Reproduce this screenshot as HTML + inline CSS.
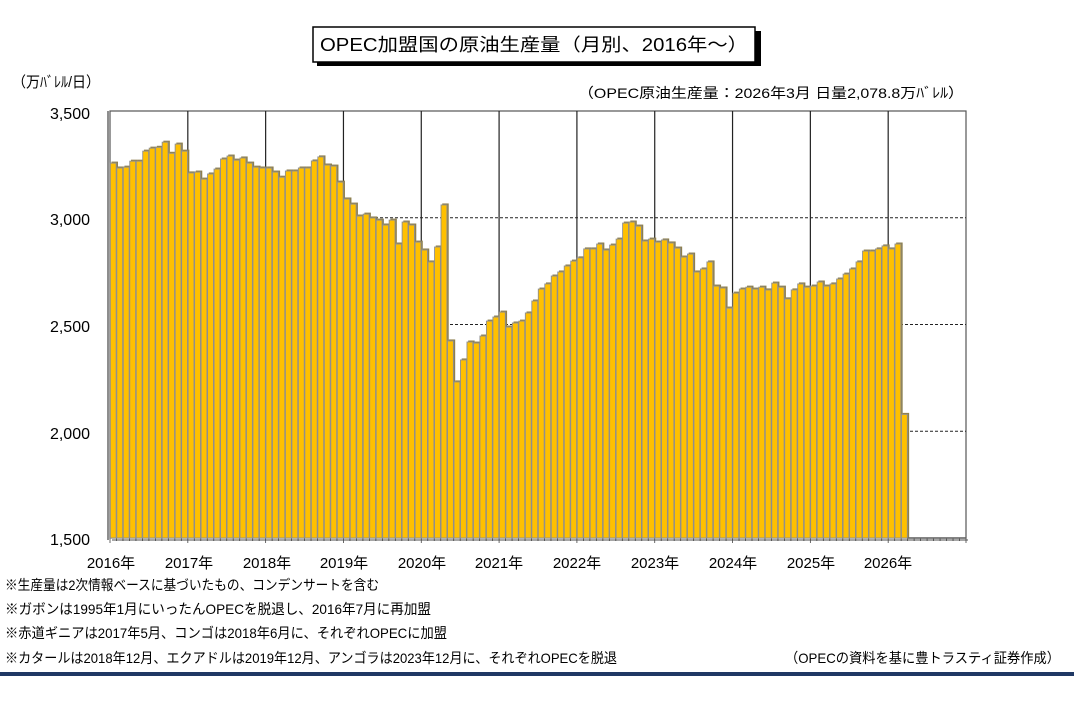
<!DOCTYPE html>
<html><head><meta charset="utf-8">
<style>
html,body{margin:0;padding:0;background:#fff;width:1074px;height:707px;overflow:hidden}
svg{display:block;font-family:"Liberation Sans","Noto Sans CJK JP",sans-serif}
</style></head>
<body>
<svg id="s" width="1074" height="707" viewBox="0 0 1074 707" xmlns="http://www.w3.org/2000/svg">
<rect x="0" y="0" width="1074" height="707" fill="#fff"/>
<!-- title box -->
<rect x="317" y="31" width="444" height="35" fill="#000"/>
<rect x="313" y="27" width="442" height="35" fill="#fff" stroke="#000" stroke-width="1.5"/>
<text x="320" y="51" font-size="18" textLength="428" lengthAdjust="spacingAndGlyphs">OPEC加盟国の原油生産量（月別、2016年～）</text>
<text x="12" y="87" font-size="15" textLength="88" lengthAdjust="spacingAndGlyphs">（万ﾊﾞﾚﾙ/日）</text>
<text x="578" y="98" font-size="14" textLength="386" lengthAdjust="spacingAndGlyphs">（OPEC原油生産量：2026年3月  日量2,078.8万ﾊﾞﾚﾙ）</text>
<g id="plot"></g>
<!-- y labels -->
<g font-size="16" text-anchor="end">
<text x="90" y="119">3,500</text>
<text x="90" y="225">3,000</text>
<text x="90" y="332">2,500</text>
<text x="90" y="439">2,000</text>
<text x="90" y="545">1,500</text>
</g>
<g font-size="15" text-anchor="middle">
<text x="111" y="568">2016年</text>
<text x="189" y="568">2017年</text>
<text x="267" y="568">2018年</text>
<text x="344" y="568">2019年</text>
<text x="422" y="568">2020年</text>
<text x="499" y="568">2021年</text>
<text x="577" y="568">2022年</text>
<text x="655" y="568">2023年</text>
<text x="733" y="568">2024年</text>
<text x="811" y="568">2025年</text>
<text x="888" y="568">2026年</text>
</g>
<g font-size="14">
<text x="5" y="590" textLength="374" lengthAdjust="spacingAndGlyphs">※生産量は2次情報ベースに基づいたもの、コンデンサートを含む</text>
<text x="5" y="614" textLength="426" lengthAdjust="spacingAndGlyphs">※ガボンは1995年1月にいったんOPECを脱退し、2016年7月に再加盟</text>
<text x="5" y="638" textLength="442" lengthAdjust="spacingAndGlyphs">※赤道ギニアは2017年5月、コンゴは2018年6月に、それぞれOPECに加盟</text>
<text x="5" y="663" textLength="612" lengthAdjust="spacingAndGlyphs">※カタールは2018年12月、エクアドルは2019年12月、アンゴラは2023年12月に、それぞれOPECを脱退</text>
<text x="785" y="663" textLength="275" lengthAdjust="spacingAndGlyphs">（OPECの資料を基に豊トラスティ証券作成）</text>
</g>
<rect x="0" y="672" width="1074" height="4" fill="#1f3864"/>
</svg>
<script>
(function(){
var d=[3256,3233,3237,3265,3265,3312,3326,3330,3354,3302,3345,3312,
3210,3214,3181,3205,3228,3275,3289,3270,3280,3256,3237,3233,
3233,3214,3190,3219,3219,3233,3233,3266,3285,3247,3242,3167,
3088,3064,3008,3017,2999,2989,2966,2989,2877,2980,2966,2886,
2849,2793,2863,3060,2423,2231,2334,2418,2413,2446,2516,2535,
2558,2488,2507,2516,2554,2610,2666,2690,2727,2746,2774,2797,
2812,2854,2854,2877,2849,2872,2900,2975,2980,2961,2891,2900,
2886,2896,2882,2858,2816,2830,2746,2760,2793,2680,2671,2577,
2647,2666,2675,2666,2675,2662,2694,2675,2620,2662,2690,2675,
2680,2699,2680,2690,2713,2736,2760,2793,2844,2844,2854,2868,
2854,2877,2079];
var x0=110,x1=966,T=111,B=538,bw=(x1-x0)/132;
function Y(v){return B-(v-1500)*(B-T)/2000;}
var s='';
s+='<rect x="'+x0+'" y="'+T+'" width="'+(x1-x0)+'" height="'+(B-T)+'" fill="#fff" stroke="#555" stroke-width="1.2"/>';
s+='<line x1="'+(x0-2)+'" y1="'+T+'" x2="'+(x0-2)+'" y2="'+(B+2)+'" stroke="#444" stroke-width="1.2"/>';
s+='<line x1="'+(x0+2)+'" y1="'+(B+2)+'" x2="'+(x1+2)+'" y2="'+(B+2)+'" stroke="#888" stroke-width="1.5"/>';
[3000,2500,2000].forEach(function(v){s+='<line x1="'+x0+'" y1="'+Y(v)+'" x2="'+x1+'" y2="'+Y(v)+'" stroke="#222" stroke-width="1" stroke-dasharray="3,2"/>';});
for(var i=1;i<11;i++){var x=x0+i*12*bw;s+='<line x1="'+x+'" y1="'+T+'" x2="'+x+'" y2="'+B+'" stroke="#222" stroke-width="1.2"/>';}
for(var i=0;i<=132;i++){var x=x0+i*bw;s+='<line x1="'+x+'" y1="'+B+'" x2="'+x+'" y2="'+(B+(i%12==0?5:3))+'" stroke="#444" stroke-width="0.8"/>';}
for(var i=0;i<d.length;i++){
 var x=x0+i*bw,y=Y(d[i]);
 s+='<rect x="'+(x+1.5)+'" y="'+(y-1.5)+'" width="'+bw+'" height="'+(B-y+1.5)+'" fill="#8d7f4e"/>';
 s+='<rect x="'+(x+0.3)+'" y="'+y+'" width="'+(bw-0.6)+'" height="'+(B-y)+'" fill="#FFC000" stroke="#8f8f8f" stroke-width="0.9"/>';
}
s+='<line x1="'+(x0+d.length*bw)+'" y1="'+B+'" x2="'+x1+'" y2="'+B+'" stroke="#666" stroke-width="1.5"/>';
document.getElementById('plot').innerHTML=s;
})();
</script>
</body></html>
